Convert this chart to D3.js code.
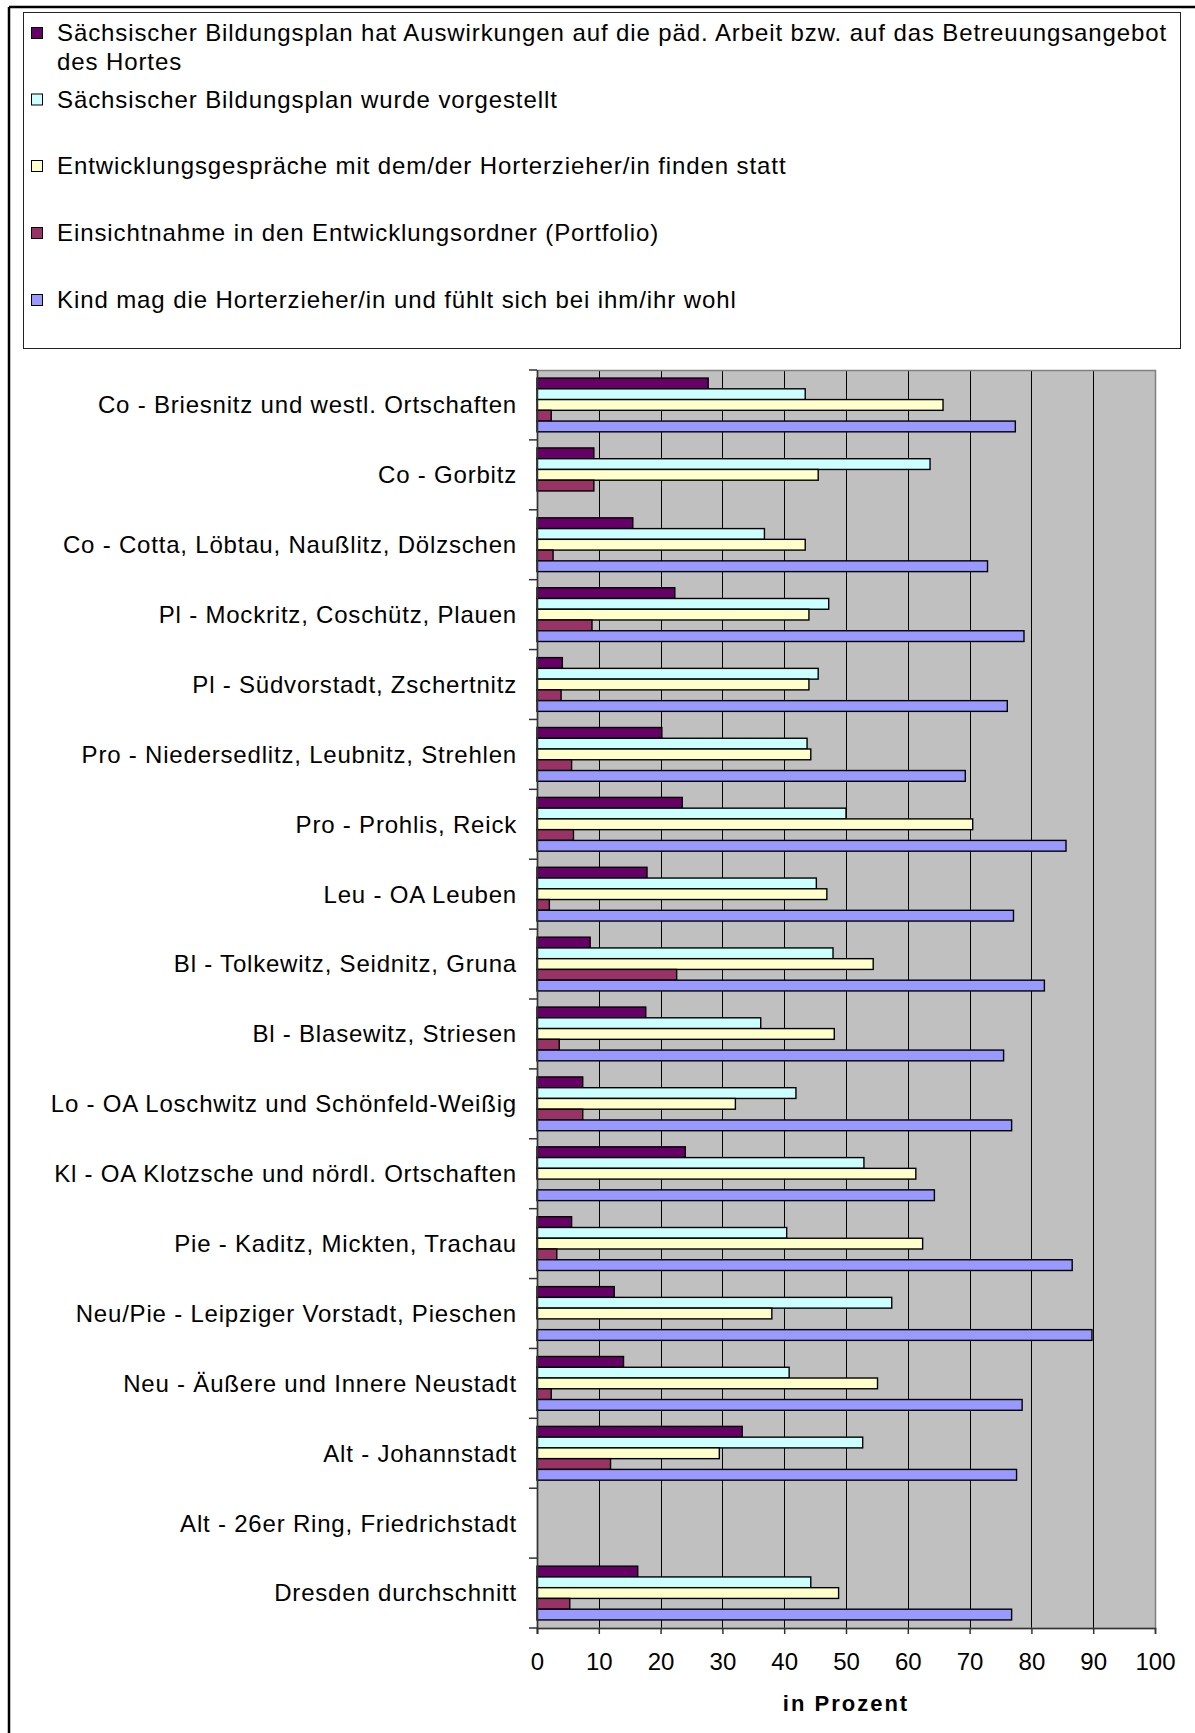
<!DOCTYPE html>
<html>
<head>
<meta charset="utf-8">
<script src="https://cdn.jsdelivr.net/npm/d3@7"></script>
<style>
  html, body { margin: 0; padding: 0; background: #fff; }
  svg { display: block; font-family: "Liberation Sans", Arial, sans-serif; }
</style>
</head>
<body>
<svg id="chart" width="1195" height="1733"></svg>
<script>
// ---------- DATA ----------
const categories = [
  "Co - Briesnitz und westl. Ortschaften",
  "Co - Gorbitz",
  "Co - Cotta, Löbtau, Naußlitz, Dölzschen",
  "Pl - Mockritz, Coschütz, Plauen",
  "Pl - Südvorstadt, Zschertnitz",
  "Pro - Niedersedlitz, Leubnitz, Strehlen",
  "Pro - Prohlis, Reick",
  "Leu - OA Leuben",
  "Bl - Tolkewitz, Seidnitz, Gruna",
  "Bl - Blasewitz, Striesen",
  "Lo - OA Loschwitz und Schönfeld-Weißig",
  "Kl - OA Klotzsche und nördl. Ortschaften",
  "Pie - Kaditz, Mickten, Trachau",
  "Neu/Pie - Leipziger Vorstadt, Pieschen",
  "Neu - Äußere und Innere Neustadt",
  "Alt - Johannstadt",
  "Alt - 26er Ring, Friedrichstadt",
  "Dresden durchschnitt"
];

const seriesNames = [
  "Sächsischer Bildungsplan hat Auswirkungen auf die päd. Arbeit bzw. auf das Betreuungsangebot des Hortes",
  "Sächsischer Bildungsplan wurde vorgestellt",
  "Entwicklungsgespräche mit dem/der Horterzieher/in finden statt",
  "Einsichtnahme in den Entwicklungsordner (Portfolio)",
  "Kind mag die Horterzieher/in und fühlt sich bei ihm/ihr wohl"
];

const bildungsplanAuswirkungen = [27.7, 9.2, 15.5, 22.3, 4.1, 20.2, 23.5, 17.8, 8.6, 17.6, 7.4, 24.0, 5.6, 12.5, 14.0, 33.2, null, 16.3];
const bildungsplanVorgestellt  = [43.4, 63.6, 36.8, 47.2, 45.5, 43.7, 50.0, 45.2, 47.9, 36.2, 41.9, 52.9, 40.4, 57.4, 40.8, 52.7, null, 44.3];
const entwicklungsgespraeche   = [65.7, 45.5, 43.4, 44.0, 44.0, 44.3, 70.5, 46.9, 54.4, 48.1, 32.1, 61.3, 62.4, 38.0, 55.1, 29.5, null, 48.8];
const einsichtnahmePortfolio   = [2.3, 9.2, 2.6, 8.9, 3.9, 5.6, 5.9, 2.0, 22.6, 3.6, 7.4, 0, 3.2, 0, 2.3, 11.9, null, 5.3];
const kindFuehltSichWohl       = [77.4, 0, 72.9, 78.8, 76.1, 69.3, 85.6, 77.1, 82.1, 75.5, 76.8, 64.3, 86.6, 89.8, 78.5, 77.6, null, 76.8];

const xTicks = [0, 10, 20, 30, 40, 50, 60, 70, 80, 90, 100];
const xAxisTitle = "in Prozent";

const seriesColors = ["#660066", "#CCFFFF", "#FFFFCC", "#993366", "#9999FF"];

const seriesValues = [bildungsplanAuswirkungen, bildungsplanVorgestellt, entwicklungsgespraeche, einsichtnahmePortfolio, kindFuehltSichWohl];

// ---------- LAYOUT ----------
const svg = d3.select("#chart");
const plot = { left: 537, right: 1155, top: 370, bottom: 1628 };

// outer chart frame (cut at right/bottom like the reference)
svg.append("line").attr("x1", 9).attr("x2", 9).attr("y1", 7).attr("y2", 1733)
  .attr("stroke", "#000").attr("stroke-width", 2.5);
svg.append("line").attr("x1", 9).attr("x2", 1195).attr("y1", 7).attr("y2", 7)
  .attr("stroke", "#000").attr("stroke-width", 2.5);

// ---------- LEGEND ----------
const legend = svg.append("g");
legend.append("rect").attr("x", 23.5).attr("y", 12.5).attr("width", 1157).attr("height", 336)
  .attr("fill", "#fff").attr("stroke", "#222").attr("stroke-width", 1);

const legendRowsY = [33, 99.5, 166, 233, 300];
const legendFont = 24, legendSpacing = 0.9;
seriesNames.forEach((name, i) => {
  const cy = legendRowsY[i];
  legend.append("rect").attr("x", 31.5).attr("y", cy - 5.5).attr("width", 11).attr("height", 11)
    .attr("fill", seriesColors[i]).attr("stroke", "#000").attr("stroke-width", 1);
  let lines = [name];
  if (i === 0) {
    const cut = name.lastIndexOf(" des Hortes");
    lines = [name.slice(0, cut), name.slice(cut + 1)];
  }
  lines.forEach((ln, j) => {
    legend.append("text").attr("x", 57).attr("y", cy + j * 29)
      .attr("dy", "0.35em").attr("font-size", legendFont)
      .attr("letter-spacing", legendSpacing).attr("fill", "#000").text(ln);
  });
});

// ---------- SCALES ----------
const x = d3.scaleLinear().domain([0, 100]).range([plot.left, plot.right]);
const y = d3.scaleBand().domain(categories).range([plot.top, plot.bottom])
  .paddingInner(1.5 / 6.5).paddingOuter(0.75 / 6.5);
const ySub = d3.scaleBand().domain(d3.range(seriesNames.length)).range([0, y.bandwidth()]);

// plot background
svg.append("rect").attr("x", plot.left).attr("y", plot.top)
  .attr("width", plot.right - plot.left).attr("height", plot.bottom - plot.top)
  .attr("fill", "#C0C0C0");

// gridlines
svg.append("g").selectAll("line").data(xTicks.slice(1, -1)).join("line")
  .attr("x1", d => Math.round(x(d)) + 0.5).attr("x2", d => Math.round(x(d)) + 0.5)
  .attr("y1", plot.top).attr("y2", plot.bottom)
  .attr("stroke", "#000").attr("stroke-width", 1);

// plot border (grey)
svg.append("rect").attr("x", plot.left + 0.5).attr("y", plot.top + 0.5)
  .attr("width", plot.right - plot.left).attr("height", plot.bottom - plot.top)
  .attr("fill", "none").attr("stroke", "#808080").attr("stroke-width", 1.5);

// ---------- BARS ----------
const barData = [];
categories.forEach((c, ci) => {
  seriesValues.forEach((vals, si) => {
    const v = vals[ci];
    if (v != null && v > 0) barData.push({ c, si, v });
  });
});
svg.append("g").selectAll("rect").data(barData).join("rect")
  .attr("x", x(0))
  .attr("y", d => y(d.c) + ySub(d.si))
  .attr("width", d => x(d.v) - x(0))
  .attr("height", ySub.bandwidth())
  .attr("fill", d => seriesColors[d.si])
  .attr("stroke", "#000").attr("stroke-width", 1.4);

// ---------- AXES ----------
const yAxisG = svg.append("g");
yAxisG.append("line").attr("x1", plot.left + 0.5).attr("x2", plot.left + 0.5)
  .attr("y1", plot.top).attr("y2", plot.bottom + 6).attr("stroke", "#333").attr("stroke-width", 1.5);
const boundaries = categories.map(c => y(c) - (y.step() - y.bandwidth()) / 2);
boundaries.push(plot.bottom);
yAxisG.selectAll("line.tick").data(boundaries).join("line").attr("class", "tick")
  .attr("x1", plot.left - 8).attr("x2", plot.left)
  .attr("y1", d => d).attr("y2", d => d)
  .attr("stroke", "#333").attr("stroke-width", 1.5);
yAxisG.selectAll("text").data(categories).join("text")
  .attr("x", 517).attr("y", d => y(d) + y.bandwidth() / 2)
  .attr("dy", "0.35em").attr("text-anchor", "end")
  .attr("font-size", 24).attr("letter-spacing", 0.8).attr("fill", "#000")
  .text(d => d);

// value axis
const xAxisG = svg.append("g").attr("transform", `translate(0,${plot.bottom})`)
  .call(d3.axisBottom(x).tickValues(xTicks).tickSize(6).tickPadding(20).tickFormat(d3.format("d")));
xAxisG.select(".domain").attr("stroke", "#333").attr("stroke-width", 1.5);
xAxisG.selectAll(".tick line").attr("stroke", "#333").attr("stroke-width", 1.5);
xAxisG.selectAll(".tick text").attr("font-size", 24).attr("fill", "#000")
  .attr("font-family", "'Liberation Sans', Arial, sans-serif").attr("dy", "0.35em").attr("y", 34);

svg.append("text").attr("x", (plot.left + plot.right) / 2).attr("y", 1703)
  .attr("dy", "0.35em").attr("text-anchor", "middle")
  .attr("font-size", 22).attr("font-weight", "bold").attr("letter-spacing", 2)
  .attr("fill", "#000").text(xAxisTitle);
</script>
</body>
</html>
